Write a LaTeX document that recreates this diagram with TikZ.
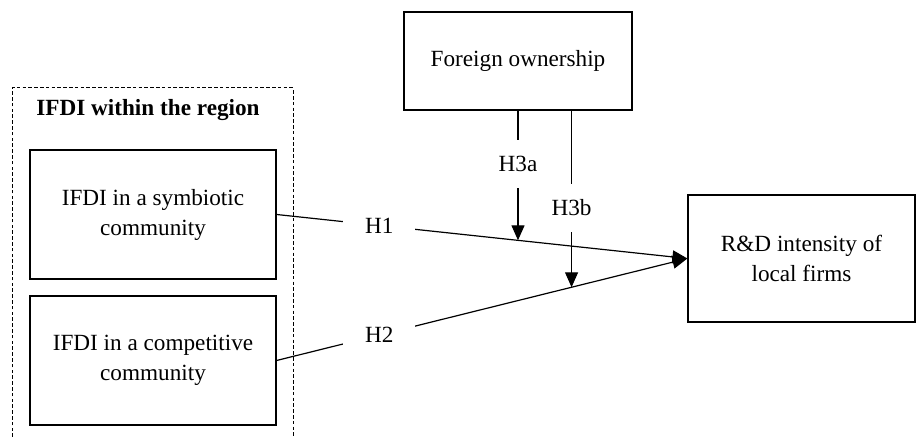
\documentclass[tikz,border=0pt]{standalone}
\usepackage{fontspec}
\setmainfont{Liberation Serif}
\usetikzlibrary{arrows.meta,calc}
\begin{document}
\begin{tikzpicture}[x=0.5pt,y=-0.5pt,
   line width=0.6pt,
   font=\fontsize{11.6}{15}\selectfont,
   >={Triangle[length=7.5pt,width=6.5pt]},
   box/.style={draw,align=center,inner sep=0pt},
   hyp/.style={fill=white,inner xsep=11pt,inner ysep=1pt},
   mod/.style={fill=white,inner xsep=1pt,inner ysep=8pt}]

\useasboundingbox (0,0) rectangle (921,437);

% region
\draw[dash pattern=on 1.8pt off 1.1pt,line width=0.5pt] (12,437) -- (12,88) -- (293,88) -- (293,437);
\node (region) at (148,110) {\bfseries IFDI within the region};
\node[box,minimum width=123pt,minimum height=64.5pt] (sym) at (153,214.5)
   {IFDI in a symbiotic\\community};
\node[box,minimum width=123pt,minimum height=64.5pt] (comp) at (153,360.5)
   {IFDI in a competitive\\community};

\node[box,minimum width=114pt,minimum height=49pt] (fo) at (518,61) {Foreign ownership};
\node[box,minimum width=113.5pt,minimum height=63.5pt] (rd) at (801.5,258.5)
   {R\&D intensity of\\local firms};

\draw[->] (sym.east) -- node[hyp,pos=.25] (h1) {H1} (rd.west);
\draw[->] (comp.east) -- node[hyp,pos=.25] (h2) {H2} (rd.west);

\coordinate (a3) at ($(sym.east)!.587!(rd.west)$);
\coordinate (b3) at ($(comp.east)!.718!(rd.west)$);

\draw[->] (fo.south) -- node[mod,pos=.41] (h3a) {H3a} (fo.south |- a3);
\draw[->] (fo.south -| b3) -- node[mod,pos=.55] (h3b) {H3b} (b3);

\end{tikzpicture}
\end{document}
